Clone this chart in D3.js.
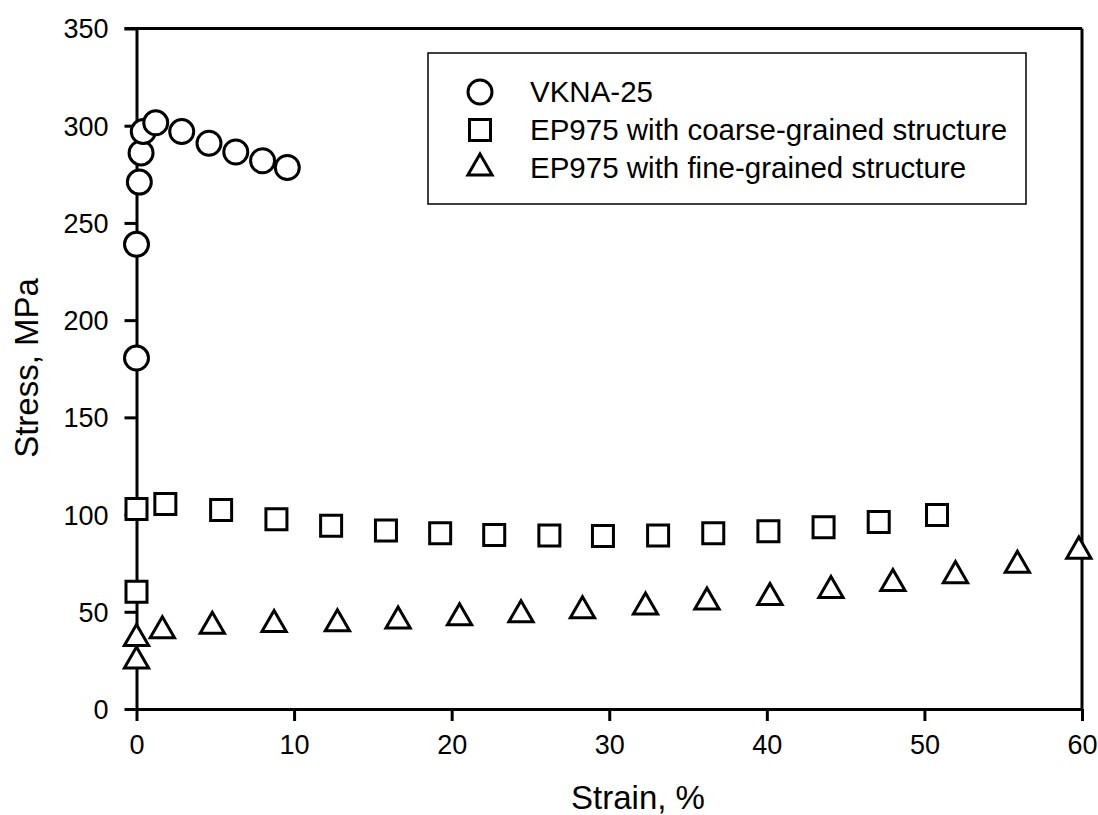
<!DOCTYPE html>
<html>
<head>
<meta charset="utf-8">
<script src="https://cdn.jsdelivr.net/npm/d3@7"></script>
<style>
  body { margin: 0; background: #fff; }
  svg { display: block; }
  text { font-family: Arial, "Liberation Sans", sans-serif; fill: #000; }
</style>
</head>
<body>
<div id="chart"></div>
<script>
// data
var vknaStrain = [0, 0, 0.18, 0.29, 0.43, 1.22, 2.87, 4.6, 6.3, 8.0, 9.57];
var vknaStress = [180.5, 239, 271, 286, 297, 301.5, 297, 291, 286.5, 282, 278.5];

var coarseStrain = [0, 0, 1.83, 5.37, 8.88, 12.35, 15.83, 19.27, 22.7, 26.2, 29.6, 33.1, 36.6, 40.1, 43.6, 47.1, 50.8];
var coarseStress = [60.3, 102.9, 105.5, 102.4, 97.6, 94.3, 91.8, 90.4, 89.5, 89.2, 89.0, 89.2, 90.4, 91.4, 93.5, 96.2, 99.8];

var fineStrain = [0, 0, 1.64, 4.81, 8.73, 12.75, 16.6, 20.5, 24.4, 28.3, 32.3, 36.2, 40.2, 44.07, 48.0, 51.97, 55.9, 59.8];
var fineStress = [24.7, 36.2, 40.3, 42.5, 43.4, 43.8, 45.2, 46.9, 48.5, 50.5, 52.5, 55.0, 57.4, 61.0, 64.5, 68.6, 73.9, 81.2];

var seriesNames = ["VKNA-25", "EP975 with coarse-grained structure", "EP975 with fine-grained structure"];
var xTicks = [0, 10, 20, 30, 40, 50, 60];
var yTicks = [0, 50, 100, 150, 200, 250, 300, 350];

var svgWidth = 1098;
var svgHeight = 815;
var margin = { top: 28.5, right: 16, bottom: 106, left: 136.5 };
var width = svgWidth - margin.left - margin.right;
var height = svgHeight - margin.top - margin.bottom;

var svg = d3.select("#chart").append("svg")
    .attr("width", svgWidth)
    .attr("height", svgHeight);

var g = svg.append("g")
    .attr("transform", `translate(${margin.left}, ${margin.top})`);

var x = d3.scaleLinear().domain([0, 60]).range([0, width]);
var y = d3.scaleLinear().domain([0, 350]).range([height, 0]);

// frame (top and right)
g.append("line").attr("x1", -12).attr("x2", width).attr("y1", 0).attr("y2", 0)
    .attr("stroke", "#000").attr("stroke-width", 3);
g.append("line").attr("x1", width).attr("x2", width).attr("y1", 0).attr("y2", height)
    .attr("stroke", "#000").attr("stroke-width", 3);

var xAxis = d3.axisBottom(x).tickValues(xTicks).tickSize(12).tickSizeOuter(0).tickPadding(14);
var yAxis = d3.axisLeft(y).tickValues(yTicks).tickSize(12).tickSizeOuter(0).tickPadding(16);

var gx = g.append("g").attr("transform", `translate(0, ${height})`).call(xAxis);
var gy = g.append("g").call(yAxis);

[gx, gy].forEach(function(a) {
    a.select(".domain").attr("stroke", "#000").attr("stroke-width", 3);
    a.selectAll(".tick line").attr("stroke", "#000").attr("stroke-width", 3);
    a.selectAll(".tick text").attr("font-size", 27).attr("font-family", "Arial, 'Liberation Sans', sans-serif");
});
gy.selectAll(".tick text").attr("dy", "0.35em");

// axis titles
svg.append("text")
    .attr("x", 638)
    .attr("y", 809)
    .attr("text-anchor", "middle")
    .attr("font-size", 33)
    .text("Strain, %");

svg.append("text")
    .attr("transform", "translate(38, 368) rotate(-90)")
    .attr("text-anchor", "middle")
    .attr("font-size", 33)
    .text("Stress, MPa");

var shapes = [d3.symbolCircle, d3.symbolSquare, d3.symbolTriangle];
var sizes = [452, 441, 255];
var series = [
    { xs: vknaStrain, ys: vknaStress },
    { xs: coarseStrain, ys: coarseStress },
    { xs: fineStrain, ys: fineStress }
];

series.forEach(function(s, i) {
    var pts = s.xs.map(function(v, j) { return [v, s.ys[j]]; });
    g.append("g").selectAll("path")
        .data(pts)
        .enter().append("path")
        .attr("d", d3.symbol().type(shapes[i]).size(sizes[i]))
        .attr("transform", function(d) { return `translate(${x(d[0])}, ${y(d[1])})`; })
        .attr("fill", "#fff")
        .attr("stroke", "#000")
        .attr("stroke-width", 3);
});

// legend
var legend = svg.append("g");
legend.append("rect")
    .attr("x", 428).attr("y", 53)
    .attr("width", 598).attr("height", 151)
    .attr("fill", "#fff")
    .attr("stroke", "#000")
    .attr("stroke-width", 1.5);

var rowY = [92, 130, 168];
seriesNames.forEach(function(name, i) {
    legend.append("path")
        .attr("d", d3.symbol().type(shapes[i]).size(sizes[i]))
        .attr("transform", `translate(480, ${rowY[i]})`)
        .attr("fill", "#fff")
        .attr("stroke", "#000")
        .attr("stroke-width", 3);
    legend.append("text")
        .attr("x", 530)
        .attr("y", rowY[i])
        .attr("dy", "0.35em")
        .attr("font-size", 29.5)
        .text(name);
});
</script>
</body>
</html>
